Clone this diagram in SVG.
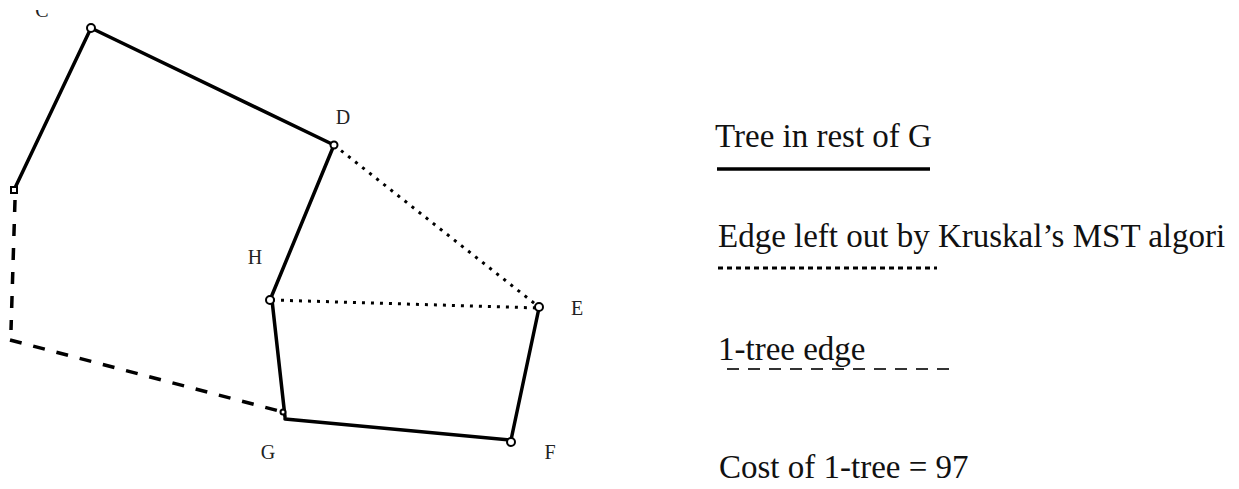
<svg xmlns="http://www.w3.org/2000/svg" width="1239" height="489" viewBox="0 0 1239 489">
<style>
.lbl{font-family:"Liberation Serif","Times New Roman",serif;font-size:20px;fill:#222;text-anchor:middle}
.leg{font-family:"Liberation Serif","Times New Roman",serif;font-size:33px;fill:#111}
.solid{stroke:#000;stroke-width:3.5;fill:none;stroke-linecap:round}
.dot{stroke:#000;stroke-width:3;fill:none;stroke-dasharray:3 6}
.dash{stroke:#000;stroke-width:3.5;fill:none;stroke-dasharray:12 12}
.node{fill:#fff;stroke:#000;stroke-width:2}
</style>
<defs>
<clipPath id="cclip"><rect x="20" y="10" width="50" height="20"/></clipPath>
</defs>
<rect width="1239" height="489" fill="#fff"/>
<g id="connectors">
<line class="solid" x1="14" y1="190" x2="91" y2="28"/>
<line class="solid" x1="91" y1="28" x2="334" y2="145"/>
<line class="solid" x1="334" y1="145" x2="270" y2="300"/>
<line class="solid" x1="272" y1="300" x2="285" y2="417"/>
<line class="solid" x1="285" y1="419" x2="511" y2="440"/>
<line class="solid" x1="511" y1="440" x2="539" y2="308"/>
<line class="dot" x1="334" y1="145" x2="539" y2="307"/>
<line class="dot" x1="272" y1="300" x2="539" y2="308"/>
<line class="dash" x1="15" y1="200" x2="11" y2="330"/>
<line class="dash" x1="10" y1="340" x2="283" y2="412"/>
</g>
<g id="node-C"><circle class="node" cx="91" cy="28" r="4"/><text class="lbl" x="42" y="17" clip-path="url(#cclip)">C</text></g>
<g id="node-L"><rect class="node" x="11" y="187" width="6" height="6"/></g>
<g id="node-D"><circle class="node" cx="334" cy="145" r="3.5"/><text class="lbl" x="343" y="124">D</text></g>
<g id="node-H"><circle class="node" cx="270" cy="300" r="4"/><text class="lbl" x="255" y="264">H</text></g>
<g id="node-E"><circle class="node" cx="539" cy="307" r="4"/><text class="lbl" x="577" y="315">E</text></g>
<g id="node-G"><circle class="node" cx="283" cy="412" r="2.5"/><text class="lbl" x="268" y="459">G</text></g>
<g id="node-F"><circle class="node" cx="511" cy="442" r="4"/><text class="lbl" x="550" y="459">F</text></g>
<g id="legend">
<text class="leg" x="715" y="147">Tree in rest of G</text>
<line x1="717" y1="169" x2="930" y2="169" stroke="#000" stroke-width="3.5"/>
<text class="leg" x="718" y="247">Edge left out by Kruskal’s MST algori</text>
<line x1="718" y1="268" x2="937" y2="268" stroke="#000" stroke-width="3" stroke-dasharray="5 4"/>
<text class="leg" x="718" y="360">1-tree edge</text>
<line x1="727" y1="369" x2="950" y2="369" stroke="#333" stroke-width="2" stroke-dasharray="12 9"/>
<text class="leg" x="719" y="478">Cost of 1-tree = 97</text>
</g>
</svg>
